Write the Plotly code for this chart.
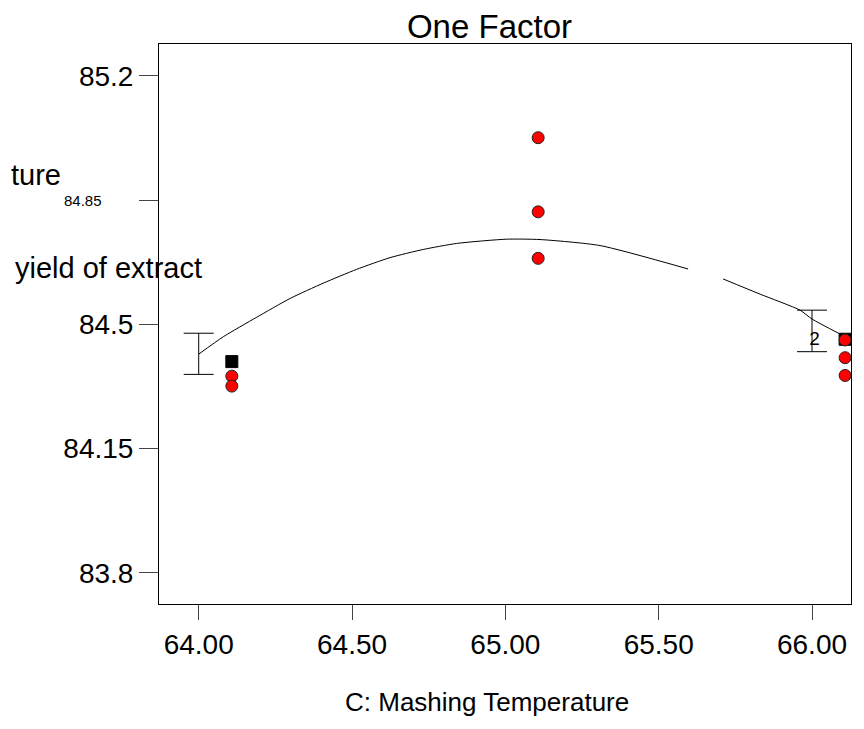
import plotly.graph_objects as go

# ---- data ----
# design points (actual runs)
pts_x = [64.108, 64.108, 65.107, 65.107, 65.107, 66.108, 66.108, 66.108]
pts_y = [84.354, 84.326, 85.026, 84.817, 84.686, 84.456, 84.406, 84.356]

# black squares
sq_x = [64.108, 66.108]
sq_y = [84.395, 84.458]

# model prediction curve (None = gap in line)
curve_x = [64.00, 64.080, 64.189, 64.298, 64.406, 64.515, 64.624, 64.732,
           64.841, 65.004, 65.113, 65.309, 65.596, None,
           65.710, 65.831, 65.961, 66.000, 66.091]
curve_y = [84.416, 84.465, 84.520, 84.573, 84.616, 84.655, 84.688, 84.711,
           84.728, 84.740, 84.739, 84.722, 84.656, None,
           84.628, 84.585, 84.540, 84.515, 84.473]

# LSD bars
lsd_x = [64.00, 66.00]
lsd_low = [84.359, 84.423]
lsd_high = [84.475, 84.540]

# label "2" near the right square
label_x = [66.008]
label_y = [84.456]
label_t = ["2"]

y_ticks = [85.2, 84.85, 84.5, 84.15, 83.8]
y_ticktext = ["85.2", "", "84.5", "84.15", "83.8"]
x_ticks = [64.0, 64.5, 65.0, 65.5, 66.0]
x_ticktext = ["64.00", "64.50", "65.00", "65.50", "66.00"]

FONT = "Liberation Sans, Arial, Helvetica, sans-serif"

fig = go.Figure()

fig.add_trace(go.Scatter(x=curve_x, y=curve_y, mode="lines",
                         line=dict(color="black", width=1, shape="spline", smoothing=0.6),
                         connectgaps=False, hoverinfo="skip"))

lsd_mid = [(a + b) / 2 for a, b in zip(lsd_low, lsd_high)]
fig.add_trace(go.Scatter(
    x=lsd_x, y=lsd_mid, mode="markers",
    marker=dict(size=1, color="rgba(0,0,0,0)"),
    error_y=dict(type="data", symmetric=False,
                 array=[h - m for h, m in zip(lsd_high, lsd_mid)],
                 arrayminus=[m - l for m, l in zip(lsd_mid, lsd_low)],
                 color="black", thickness=1, width=15),
    hoverinfo="skip"))

fig.add_trace(go.Scatter(x=sq_x, y=sq_y, mode="markers",
                         marker=dict(symbol="square", size=12, color="black",
                                     line=dict(color="black", width=1)),
                         cliponaxis=False))

fig.add_trace(go.Scatter(x=pts_x, y=pts_y, mode="markers",
                         marker=dict(symbol="circle", size=12, color="#ff0000",
                                     line=dict(color="#222222", width=1)),
                         cliponaxis=False))

fig.add_trace(go.Scatter(x=label_x, y=label_y, mode="text", text=label_t,
                         textfont=dict(family=FONT, size=19, color="black"),
                         textposition="middle center", cliponaxis=False))

fig.update_layout(
    width=848, height=713,
    margin=dict(l=151, r=5, t=36, b=117),
    paper_bgcolor="white", plot_bgcolor="white",
    showlegend=False,
    font=dict(family=FONT, color="black"),
    title=dict(text="One Factor", font=dict(family=FONT, size=33, color="black"),
               x=0.4776, xref="paper", xanchor="center",
               y=0.9748, yref="container", yanchor="middle"),
    xaxis=dict(range=[63.8705, 66.1272], tickmode="array", tickvals=x_ticks,
               ticktext=x_ticktext, ticks="outside", ticklen=15, tickcolor="#444",
               tickfont=dict(family=FONT, size=28, color="black"),
               showline=True, linecolor="black", linewidth=1, mirror=True,
               showgrid=False, zeroline=False),
    yaxis=dict(range=[83.712, 85.290], tickmode="array", tickvals=y_ticks,
               ticktext=y_ticktext, ticks="outside", ticklen=19, tickcolor="#444",
               tickfont=dict(family=FONT, size=28, color="black"),
               showline=True, linecolor="black", linewidth=1, mirror=True,
               showgrid=False, zeroline=False),
    annotations=[
        dict(text="84.85", xref="paper", yref="y", x=0, y=84.85,
             xanchor="right", yanchor="middle", xshift=-55, showarrow=False,
             font=dict(family=FONT, size=15, color="black")),
        dict(text="ture", xref="paper", yref="paper", x=-0.139, y=0.766,
             xanchor="right", yanchor="middle", showarrow=False,
             font=dict(family=FONT, size=29, color="black")),
        dict(text="yield of extract", xref="paper", yref="paper", x=-0.2114, y=0.6,
             xanchor="left", yanchor="middle", showarrow=False,
             font=dict(family=FONT, size=29, color="black")),
        dict(text="C: Mashing Temperature", xref="paper", yref="paper",
             x=0.474, y=-0.205, xanchor="center", yanchor="bottom", showarrow=False,
             font=dict(family=FONT, size=26, color="black")),
    ],
)

fig.write_html("out.html")
